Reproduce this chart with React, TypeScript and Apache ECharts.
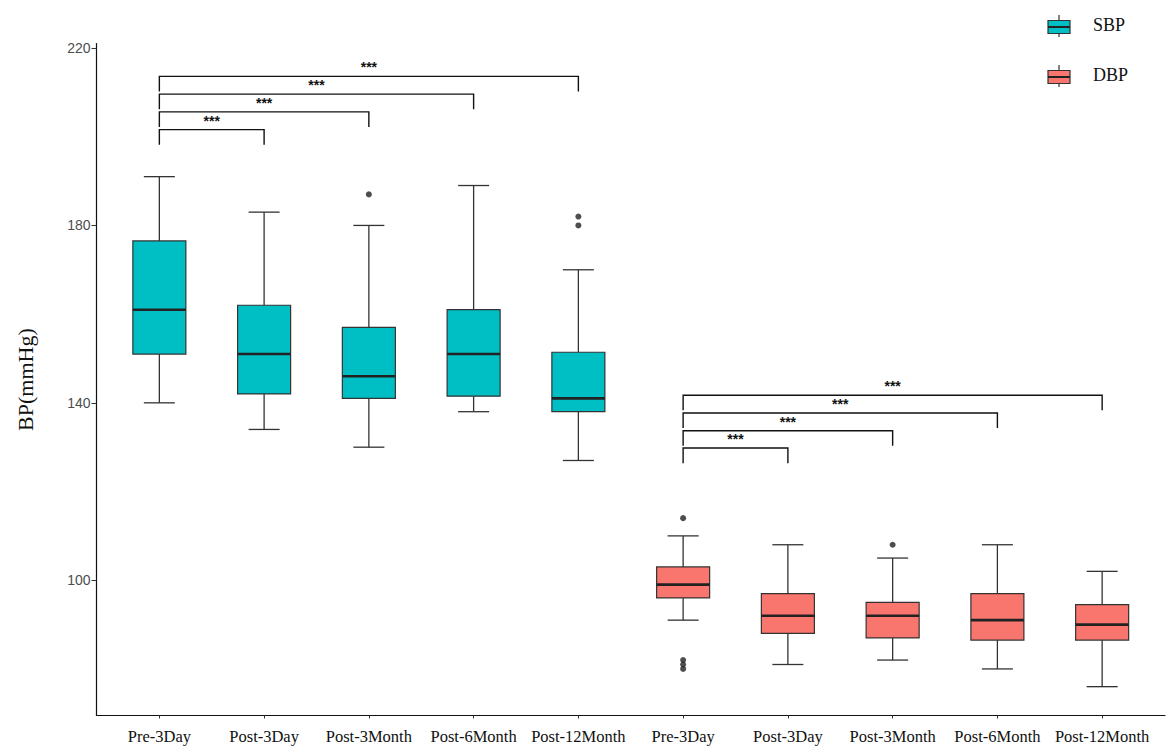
import React, { useEffect, useRef } from "react";
import * as echarts from "echarts";

const categories = [
  "Pre-3Day", "Post-3Day", "Post-3Month", "Post-6Month", "Post-12Month",
  "Pre-3Day", "Post-3Day", "Post-3Month", "Post-6Month", "Post-12Month",
];

const sbpMin = [140, 134, 130, 138, 127];
const sbpQ1 = [151, 142, 141, 141.5, 138];
const sbpMedian = [161, 151, 146, 151, 141];
const sbpQ3 = [176.5, 162, 157, 161, 151.4];
const sbpMax = [191, 183, 180, 189, 170];

const dbpMin = [91, 81, 82, 80, 76];
const dbpQ1 = [96, 88, 87, 86.5, 86.5];
const dbpMedian = [99, 92, 92, 91, 90];
const dbpQ3 = [103, 97, 95, 97, 94.5];
const dbpMax = [110, 108, 105, 108, 102];

// [category index, value]
const sbpOutliers = [[2, 187], [4, 180], [4, 182]];
const dbpOutliers = [[5, 114], [5, 82], [5, 81], [5, 80], [7, 108]];

// brackets: [from index, to index, level]
const sbpBrackets = [[0, 1, 201.6], [0, 2, 205.6], [0, 3, 209.6], [0, 4, 213.6]];
const dbpBrackets = [[5, 6, 129.8], [5, 7, 133.7], [5, 8, 137.7], [5, 9, 141.7]];
const bracketLabel = "***";
const bracketDrop = 3.4;

const yTicks = [100, 140, 180, 220];
const xPositions = [0, 1, 2, 3, 4, 5, 6, 7, 8, 9];

const SBP_COLOR = "#00BFC4";
const DBP_COLOR = "#F8766D";
const LINE = "#333333";

function boxRender(params: any, api: any) {
  const x = api.value(0);
  const pMin = api.coord([x, api.value(1)]);
  const pQ1 = api.coord([x, api.value(2)]);
  const pMed = api.coord([x, api.value(3)]);
  const pQ3 = api.coord([x, api.value(4)]);
  const pMax = api.coord([x, api.value(5)]);
  const unit = api.size([1, 0])[0];
  const half = unit * 0.253;
  const cap = unit * 0.148;
  const cx = pMed[0];
  const fill = api.visual("color");
  return {
    type: "group",
    children: [
      { type: "line", shape: { x1: cx, y1: pQ3[1], x2: cx, y2: pMax[1] }, style: { stroke: LINE, lineWidth: 1.3 } },
      { type: "line", shape: { x1: cx - cap, y1: pMax[1], x2: cx + cap, y2: pMax[1] }, style: { stroke: LINE, lineWidth: 1.3 } },
      { type: "line", shape: { x1: cx, y1: pQ1[1], x2: cx, y2: pMin[1] }, style: { stroke: LINE, lineWidth: 1.3 } },
      { type: "line", shape: { x1: cx - cap, y1: pMin[1], x2: cx + cap, y2: pMin[1] }, style: { stroke: LINE, lineWidth: 1.3 } },
      {
        type: "rect",
        shape: { x: cx - half, y: pQ3[1], width: half * 2, height: pQ1[1] - pQ3[1] },
        style: { fill, stroke: LINE, lineWidth: 1.2 },
      },
      { type: "line", shape: { x1: cx - half, y1: pMed[1], x2: cx + half, y2: pMed[1] }, style: { stroke: "#222222", lineWidth: 2.6 } },
    ],
  };
}

function bracketRender(params: any, api: any) {
  const x1 = api.value(0);
  const x2 = api.value(1);
  const lvl = api.value(2);
  const a = api.coord([x1, lvl]);
  const b = api.coord([x2, lvl]);
  const aLow = api.coord([x1, lvl - bracketDrop]);
  const bLow = api.coord([x2, lvl - bracketDrop]);
  return {
    type: "group",
    children: [
      {
        type: "polyline",
        shape: { points: [[a[0], aLow[1]], [a[0], a[1]], [b[0], b[1]], [b[0], bLow[1]]] },
        style: { stroke: "#111111", lineWidth: 1.4, fill: "none" },
      },
      {
        type: "text",
        x: (a[0] + b[0]) / 2,
        y: a[1] - 2,
        style: { text: bracketLabel, fill: "#111111", fontSize: 14, fontWeight: "bold", fontFamily: "Liberation Sans", align: "center", verticalAlign: "bottom" },
      },
    ],
  };
}

function legendItem(y: number, color: string, label: string) {
  return {
    type: "group",
    children: [
      { type: "line", shape: { x1: 1059, y1: y - 12, x2: 1059, y2: y + 10 }, style: { stroke: LINE, lineWidth: 1.2 } },
      { type: "rect", shape: { x: 1048, y: y - 6.5, width: 22, height: 13 }, style: { fill: color, stroke: LINE, lineWidth: 1.2 } },
      { type: "line", shape: { x1: 1048, y1: y, x2: 1070, y2: y }, style: { stroke: "#222222", lineWidth: 2 } },
      {
        type: "text",
        x: 1093,
        y: y - 2,
        style: { text: label, fill: "#111111", fontSize: 18, fontFamily: "Liberation Serif", verticalAlign: "middle" },
      },
    ],
  };
}

export default function App() {
  const ref = useRef<HTMLDivElement>(null);
  useEffect(() => {
    if (!ref.current) return;
    const chart = echarts.init(ref.current, undefined, { renderer: "svg" });
    const sbpData = sbpMin.map((v, i) => [i, v, sbpQ1[i], sbpMedian[i], sbpQ3[i], sbpMax[i]]);
    const dbpData = dbpMin.map((v, i) => [i + 5, v, dbpQ1[i], dbpMedian[i], dbpQ3[i], dbpMax[i]]);
    chart.setOption({
      animation: false,
      backgroundColor: "#ffffff",
      grid: { left: 96.5, right: 5, top: 43.6, bottom: 38.5 },
      xAxis: {
        type: "value",
        min: -0.6,
        max: 9.6,
        splitLine: { show: false },
        axisLine: { show: true, onZero: false, lineStyle: { color: "#111111", width: 1.2 } },
        axisTick: { show: true, customValues: xPositions, length: 3, lineStyle: { color: "#333333" } },
        axisLabel: {
          customValues: xPositions,
          formatter: (v: number) => categories[Math.round(v)],
          fontFamily: "Liberation Serif",
          fontSize: 16.5,
          color: "#111111",
          margin: 12,
        },
      },
      yAxis: {
        type: "value",
        min: 69.5,
        max: 221,
        name: "BP(mmHg)",
        nameLocation: "middle",
        nameGap: 60,
        nameTextStyle: { fontFamily: "Liberation Serif", fontSize: 22, color: "#111111" },
        splitLine: { show: false },
        axisLine: { show: true, onZero: false, lineStyle: { color: "#111111", width: 1.2 } },
        axisTick: { show: true, customValues: yTicks, length: 5, lineStyle: { color: "#333333" } },
        axisLabel: {
          customValues: yTicks,
          fontFamily: "Liberation Sans",
          fontSize: 14,
          color: "#4d4d4d",
          margin: 6,
        },
      },
      graphic: [legendItem(27, SBP_COLOR, "SBP"), legendItem(77, DBP_COLOR, "DBP")],
      series: [
        { type: "custom", name: "SBP", renderItem: boxRender, data: sbpData, itemStyle: { color: SBP_COLOR }, encode: { x: 0, y: [1, 2, 3, 4, 5] }, z: 2 },
        { type: "custom", name: "DBP", renderItem: boxRender, data: dbpData, itemStyle: { color: DBP_COLOR }, encode: { x: 0, y: [1, 2, 3, 4, 5] }, z: 2 },
        { type: "scatter", data: sbpOutliers.concat(dbpOutliers), symbolSize: 6, itemStyle: { color: "#222222" }, z: 3 },
        { type: "custom", renderItem: bracketRender, data: sbpBrackets.concat(dbpBrackets), encode: { x: [0, 1], y: 2 }, z: 4 },
      ],
    });
    return () => chart.dispose();
  }, []);
  return <div ref={ref} style={{ position: "fixed", left: 0, top: 0, width: 1170, height: 754 }} />;
}
